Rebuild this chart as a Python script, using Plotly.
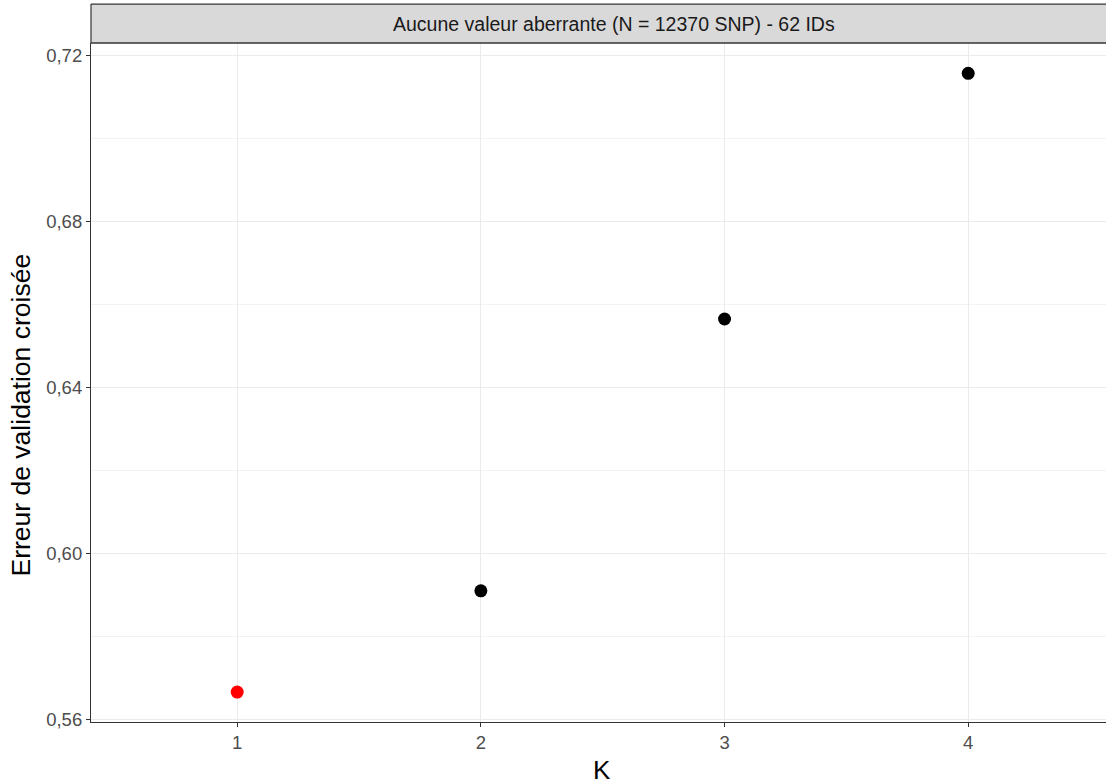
import plotly.graph_objects as go

# Cross-validation error for each number of ancestral clusters K
k_values = [1, 2, 3, 4]
cv_error = [0.5667, 0.5911, 0.6566, 0.7158]
point_colors = ["#FF0000", "#000000", "#000000", "#000000"]

y_ticks = [0.56, 0.60, 0.64, 0.68, 0.72]
y_tick_labels = ["0,56", "0,60", "0,64", "0,68", "0,72"]
y_minor = [0.58, 0.62, 0.66, 0.70]
x_tick_labels = ["1", "2", "3", "4"]

strip_title = "Aucune valeur aberrante (N = 12370 SNP) - 62 IDs"
x_title = "K"
y_title = "Erreur de validation croisée"

FONT = "Liberation Sans, Arial, sans-serif"
STRIP_TOP = 1.0574
EDGE = "#333333"

fig = go.Figure()
fig.add_trace(go.Scatter(
    x=k_values, y=cv_error, mode="markers",
    marker=dict(color=point_colors, size=13, line=dict(width=0)),
    hoverinfo="x+y", showlegend=False,
))

# facet strip: grey band with its outline drawn on the left, top and bottom
strip_shapes = [
    dict(type="rect", xref="paper", yref="paper",
         x0=0, x1=1.2, y0=1, y1=STRIP_TOP,
         fillcolor="#D9D9D9", line=dict(width=0), layer="above"),
    dict(type="line", xref="paper", yref="paper",
         x0=0, x1=1.2, y0=STRIP_TOP, y1=STRIP_TOP,
         line=dict(color=EDGE, width=1.2), layer="above"),
    dict(type="line", xref="paper", yref="paper",
         x0=0, x1=1.2, y0=1, y1=1,
         line=dict(color=EDGE, width=1.6), layer="above"),
    dict(type="line", xref="paper", yref="paper",
         x0=0, x1=0, y0=1, y1=STRIP_TOP,
         line=dict(color=EDGE, width=1.2), layer="above"),
]

fig.update_layout(
    width=1106, height=784,
    margin=dict(l=91, r=0, t=43, b=62),
    paper_bgcolor="white", plot_bgcolor="white",
    font=dict(family=FONT, color="#4D4D4D"),
    xaxis=dict(
        range=[0.4, 4.5655],
        tickvals=k_values, ticktext=x_tick_labels,
        showgrid=True, gridcolor="#EBEBEB", gridwidth=1.1,
        zeroline=False,
        showline=True, linecolor=EDGE, linewidth=1.2,
        ticks="outside", ticklen=4, tickwidth=1.3, tickcolor=EDGE,
        tickfont=dict(size=18.5, color="#4D4D4D"),
    ),
    yaxis=dict(
        range=[0.5595, 0.7231],
        tickvals=y_ticks, ticktext=y_tick_labels,
        showgrid=True, gridcolor="#EBEBEB", gridwidth=1.1,
        minor=dict(tickvals=y_minor, showgrid=True, gridcolor="#F3F3F3",
                   gridwidth=1, ticks=""),
        zeroline=False,
        showline=True, linecolor=EDGE, linewidth=1.2,
        ticks="outside", ticklen=4, tickwidth=1.3, tickcolor=EDGE,
        tickfont=dict(size=18.5, color="#4D4D4D"),
    ),
    shapes=strip_shapes,
    annotations=[
        dict(text=strip_title, xref="paper", yref="paper",
             x=0.5153, y=1.0287, xanchor="center", yanchor="middle",
             showarrow=False, font=dict(size=19.5, color="#1A1A1A")),
        dict(text=x_title, xref="paper", yref="paper",
             x=0.5034, y=-0.0707, xanchor="center", yanchor="middle",
             showarrow=False, font=dict(size=26, color="#000000")),
        dict(text=y_title, xref="paper", yref="paper",
             x=-0.068, y=0.4529, xanchor="center", yanchor="middle",
             textangle=-90,
             showarrow=False, font=dict(size=26.5, color="#000000")),
    ],
)

fig.write_html("out.html")
